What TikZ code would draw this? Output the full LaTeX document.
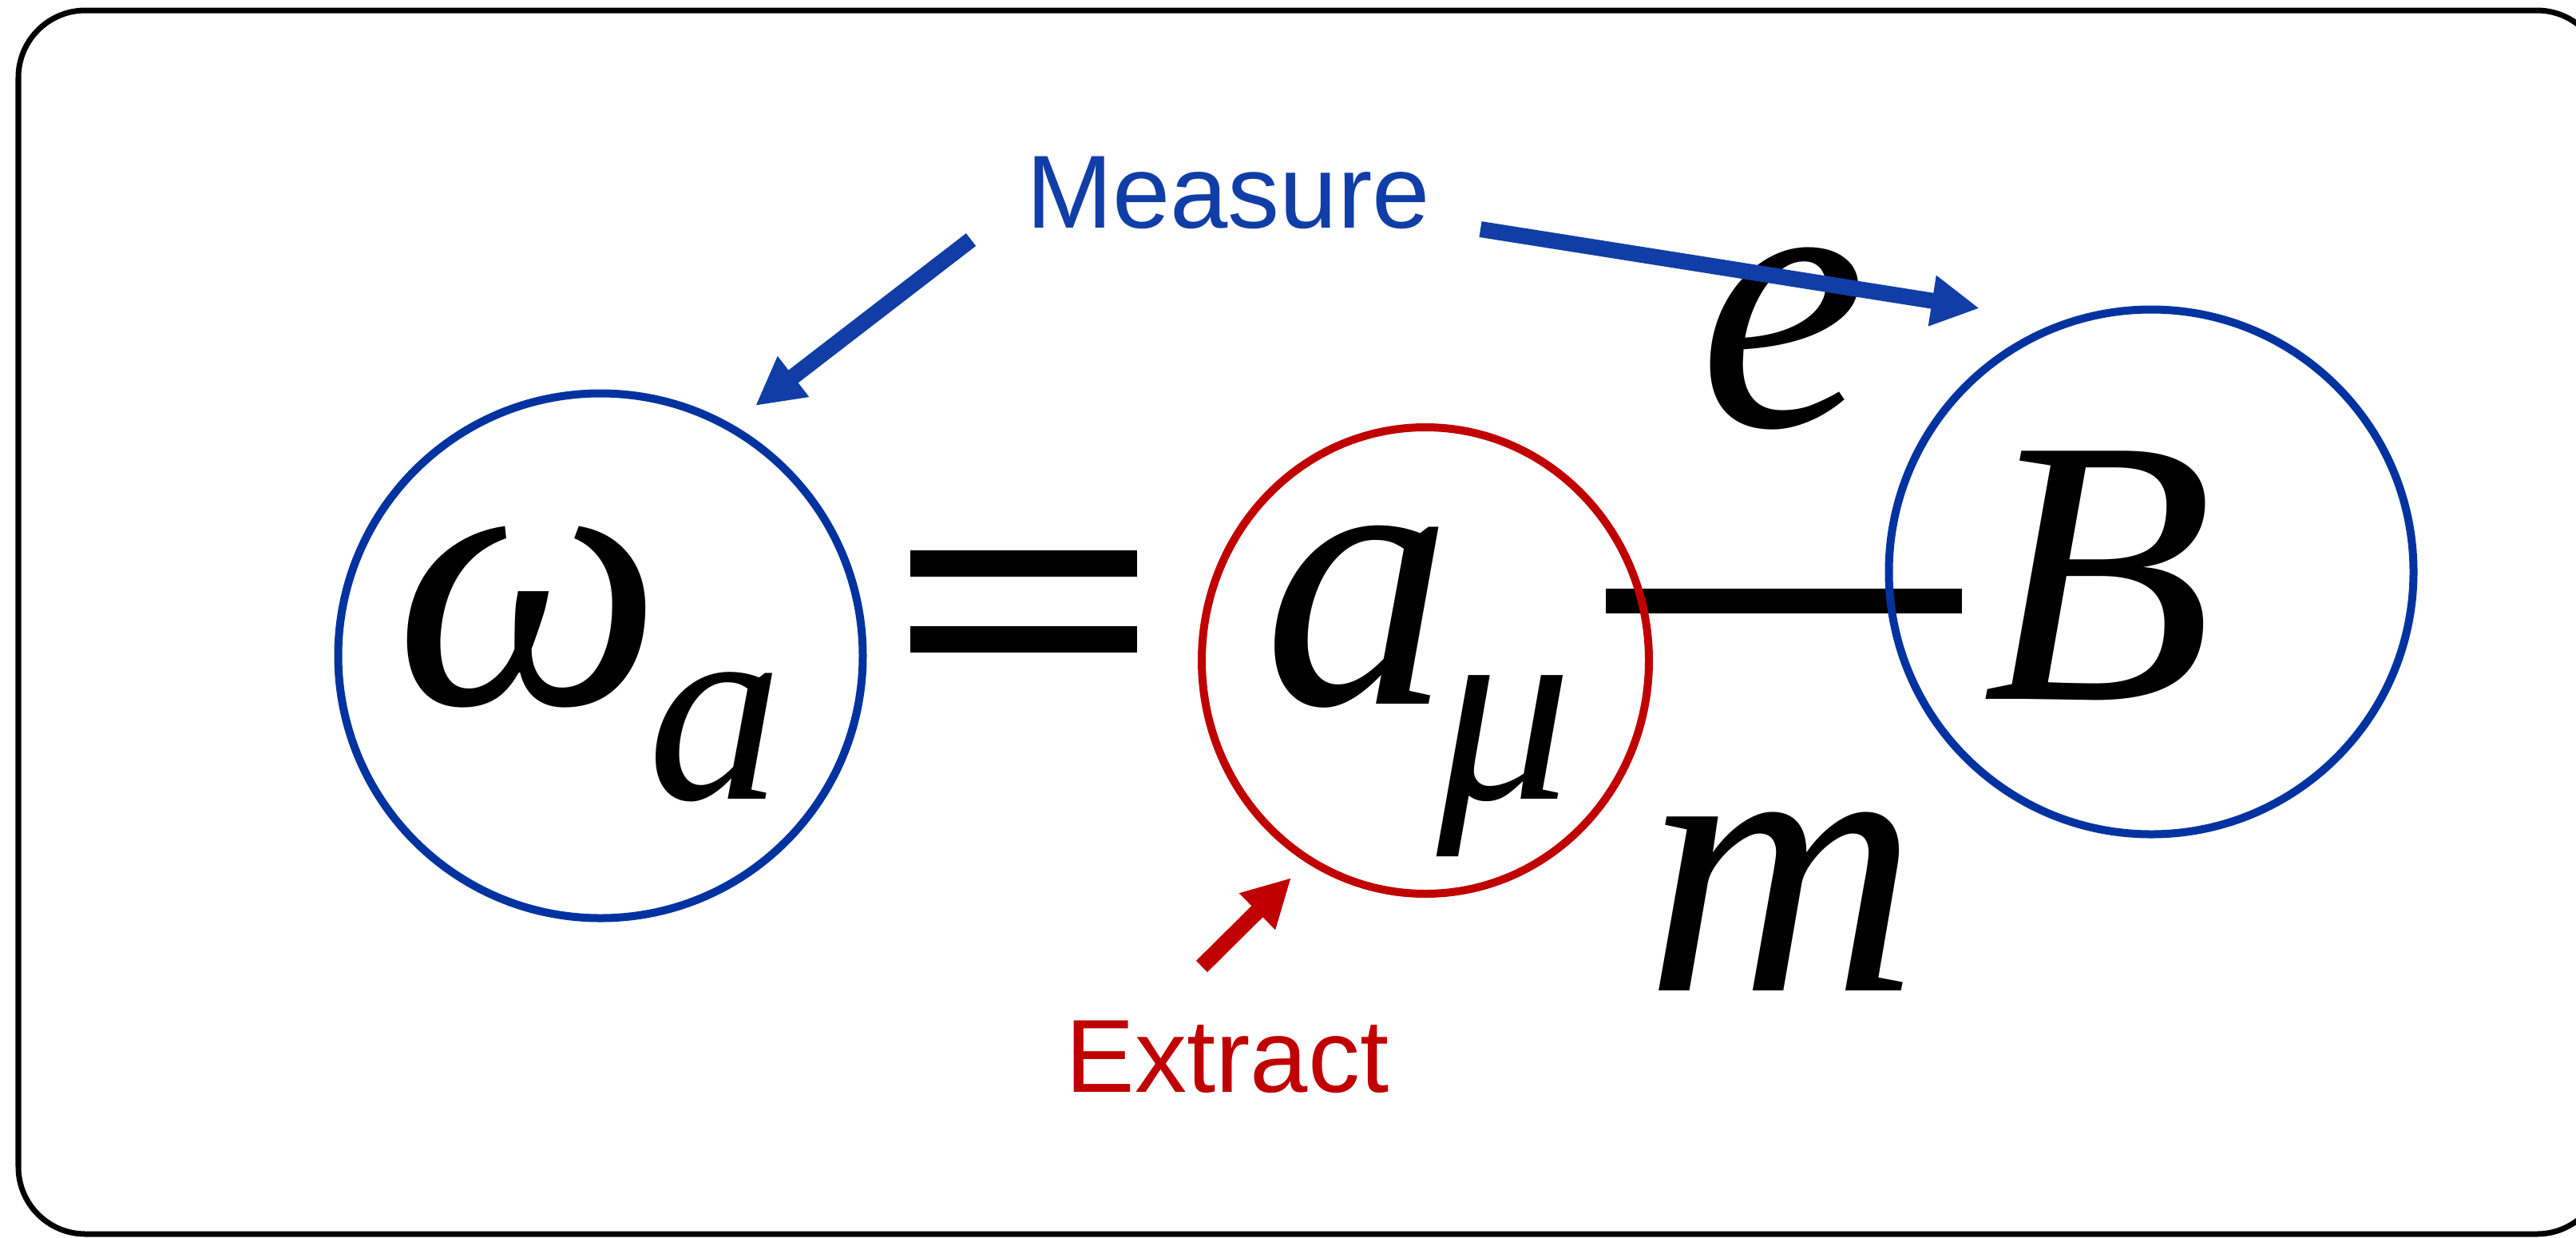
\documentclass[tikz,border=0pt]{standalone}
\usepackage{fontspec}
\setmainfont{Liberation Serif}
\newfontfamily\lblfont{Liberation Sans}
\usetikzlibrary{positioning, arrows.meta, shapes.geometric}
\definecolor{msrblue}{RGB}{16,62,166}
\definecolor{ringblue}{RGB}{0,51,160}
\definecolor{extred}{RGB}{192,0,0}

\begin{document}
\begin{tikzpicture}[
    x=1cm, y=-1cm,
    bluering/.style={circle, draw=ringblue, line width=0.1cm, minimum size=6.57cm, inner sep=0pt},
    redring/.style={ellipse, draw=extred, line width=0.1cm, minimum width=5.6cm, minimum height=5.84cm, inner sep=0pt},
    sym/.style={inner sep=0pt, anchor=base, font=\fontsize{135}{160}\selectfont\itshape},
    sub/.style={sym, font=\fontsize{96}{110}\selectfont\itshape},
    lbl/.style={inner sep=0pt, anchor=base, font=\lblfont\fontsize{37}{44}\selectfont},
    arrow/.style={-{Triangle[length=0.6cm, width=0.6cm]}, line width=0.2cm},
    frame/.style={line width=0.07cm, rounded corners=0.84cm}
]
\useasboundingbox (0,0) rectangle (32.26,15.49);
\fill[white] (0,0) rectangle (32.26,15.49);

% === FRAME ===
\draw[frame] (0.23,0.13) rectangle (32.61,15.45);

% === EQUATION ===
% equals sign and fraction bar
\fill (11.40,6.89) rectangle (14.24,7.22);
\fill (11.40,7.84) rectangle (14.24,8.17);
\fill (20.11,7.37) rectangle (24.57,7.68);

% circled quantities
\node[bluering] (wa) at (7.52,8.21) {};
\node[redring] (amu) at (17.85,8.27) {};
\node[bluering] (bf) at (26.94,7.16) {};

% symbols
\node[sym] (omega) at (6.62,8.81) {ω};
\node[sub] (omegasub) at (8.96,10.00) {a};
\node[sym] (acoef) at (17.01,8.81) {a};
\node[sub] (musub) at (18.84,10.00) {μ};
\node[sym] (echarge) at (22.33,5.33) {e};
\node[sym] (mass) at (22.32,12.40) {m};
\node[sym] (bsym) at (26.27,8.75) {B};

% === LABELS ===
\node[lbl, text=msrblue] (measure) at (15.38,2.85) {Measure};
\node[lbl, text=extred] (extract) at (15.37,13.67) {Extract};

% arrow ends
\coordinate (mleft) at (12.16,3.00);
\coordinate (mright) at (18.54,2.87);
\coordinate (wtip) at (9.46,5.08);
\coordinate (btip) at (24.79,3.86);
\coordinate (etail) at (15.05,12.10);
\coordinate (atip) at (16.17,10.99);

\draw[arrow, msrblue] (mleft) -- (wtip);
\draw[arrow, msrblue] (mright) -- (btip);
\draw[arrow, extred] (etail) -- (atip);

\end{tikzpicture}
\end{document}
